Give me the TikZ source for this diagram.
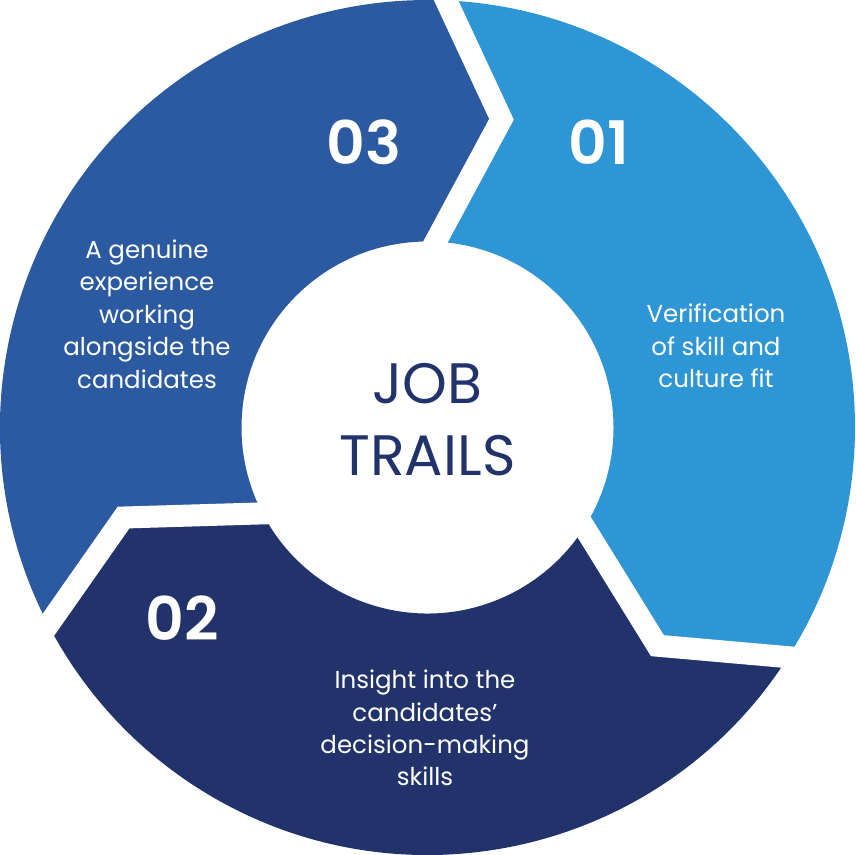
\documentclass[tikz,border=0pt]{standalone}
\usepackage{fontspec}
\setmainfont{Poppins}
\newfontfamily\numfont{Poppins SemiBold}
\usepackage{tikz}

\definecolor{skyblue}{RGB}{46,150,212}
\definecolor{midblue}{RGB}{44,90,160}
\definecolor{navyblue}{RGB}{34,51,107}

\begin{document}
\begin{tikzpicture}[
  x=1pt, y=1pt,
  gap/.style   = {draw=white, line width=22pt, line join=miter,
                  shorten <=-20pt, shorten >=-20pt},
  num/.style   = {text=white, font=\fontsize{60}{60}\numfont},
  desc/.style  = {text=white, align=center,
                  font=\fontsize{24.5}{32.4}\selectfont},
  hub/.style   = {circle, minimum size=372pt, align=center, text=navyblue,
                  font=\fontsize{57}{72}\selectfont},
]
\def\rOut{427.5}
\def\rIn{186}
\def\rTip{317}

\useasboundingbox (-427.5,-427.5) rectangle (427.5,427.5);

%% Segment 01
\fill[skyblue] (87.5:\rOut) arc[start angle=87.5, end angle=-32.5, radius=\rOut]
  -- (-43.5:\rTip) -- (-32.5:\rIn) arc[start angle=-32.5, end angle=87.5, radius=\rIn]
  -- (76.5:\rTip) -- cycle;

%% Segment 02
\fill[navyblue] (-32.5:\rOut) arc[start angle=-32.5, end angle=-152.5, radius=\rOut]
  -- (-163.5:\rTip) -- (-152.5:\rIn) arc[start angle=-152.5, end angle=-32.5, radius=\rIn]
  -- (-43.5:\rTip) -- cycle;

%% Segment 03
\fill[midblue] (207.5:\rOut) arc[start angle=207.5, end angle=87.5, radius=\rOut]
  -- (76.5:\rTip) -- (87.5:\rIn) arc[start angle=87.5, end angle=207.5, radius=\rIn]
  -- (196.5:\rTip) -- cycle;

%% White chevron gaps
\foreach \t in {87.5, -32.5, 207.5}
  \draw[gap] (\t:\rOut) -- (\t-11:\rTip) -- (\t:\rIn);

%% Centre
\node[hub] (hub) at (0,7.5) {JOB\\TRAILS};

%% Numbers
\node[num] (n01) at (171.5,285.5) {01};
\node[num] (n02) at (-245.5,-190.5) {02};
\node[num] (n03) at (-63.5,285.5) {03};

%% Descriptions
\node[desc] (d01) at (288.5,81.5)
     {Verification\\of skill and\\culture fit};
\node[desc] (d02) at (-2.5,-300.5)
     {Insight into the\\candidates’\\decision-making\\skills};
\node[desc] (d03) at (-280.5,113.5)
     {A genuine\\experience\\working\\alongside the\\candidates};

\end{tikzpicture}
\end{document}
